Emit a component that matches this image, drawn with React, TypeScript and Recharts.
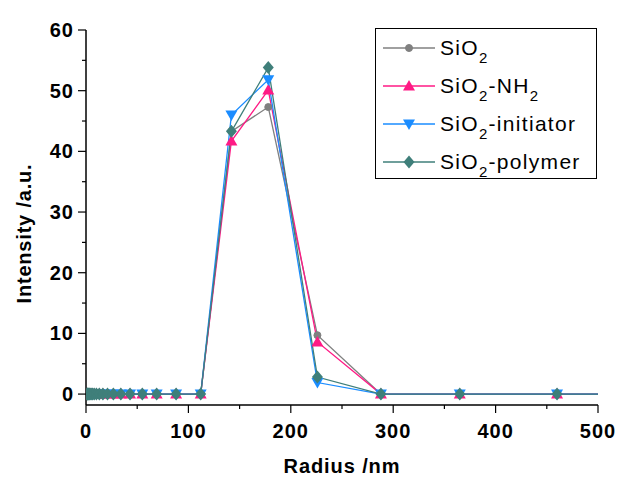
import React from "react";
import { LineChart, Line, XAxis, YAxis, Label } from "recharts";

// hydrodynamic radius bins (nm)
const radius = [1.2, 1.5, 1.9, 2.4, 3.1, 3.9, 5.0, 6.3, 8.0, 10.2, 13.0, 16.5, 21.0, 26.7, 34.0, 43.0, 55.0, 69.0, 88.0, 112, 142, 178, 226, 288, 365, 460, 583];

const sio2 = [0, 0, 0, 0, 0, 0, 0, 0, 0, 0, 0, 0, 0, 0, 0, 0, 0, 0, 0, 0, 43.3, 47.3, 9.7, 0, 0, 0, 0];
const sio2Nh2 = [0, 0, 0, 0, 0, 0, 0, 0, 0, 0, 0, 0, 0, 0, 0, 0, 0, 0, 0, 0, 41.7, 50.1, 8.6, 0, 0, 0, 0];
const sio2Initiator = [0, 0, 0, 0, 0, 0, 0, 0, 0, 0, 0, 0, 0, 0, 0, 0, 0, 0, 0, 0, 46.0, 51.8, 1.9, 0, 0, 0, 0];
const sio2Polymer = [0, 0, 0, 0, 0, 0, 0, 0, 0, 0, 0, 0, 0, 0, 0, 0, 0, 0, 0, 0, 43.3, 53.8, 2.8, 0, 0, 0, 0];

// major + minor ticks; labels only on the majors
const xTicks = [0, 50, 100, 150, 200, 250, 300, 350, 400, 450, 500];
const yTicks = [0, 5, 10, 15, 20, 25, 30, 35, 40, 45, 50, 55, 60];

const data = radius.map((r, i) => ({
  r,
  s1: sio2[i],
  s2: sio2Nh2[i],
  s3: sio2Initiator[i],
  s4: sio2Polymer[i],
}));

const FONT = "'Liberation Sans', Arial, sans-serif";

type Shape = "circle" | "up" | "down" | "diamond";

function Marker({ cx, cy, shape, color }: { cx: number; cy: number; shape: Shape; color: string }) {
  if (shape === "circle") return <circle cx={cx} cy={cy} r={3.5} fill={color} stroke={color} />;
  if (shape === "up")
    return <polygon points={`${cx},${cy - 6} ${cx + 6},${cy + 4.5} ${cx - 6},${cy + 4.5}`} fill={color} />;
  if (shape === "down")
    return <polygon points={`${cx},${cy + 6} ${cx + 6},${cy - 4.5} ${cx - 6},${cy - 4.5}`} fill={color} />;
  return <polygon points={`${cx},${cy - 6.5} ${cx + 5.5},${cy} ${cx},${cy + 6.5} ${cx - 5.5},${cy}`} fill={color} />;
}

const series = [
  { key: "s1", name: "SiO", suffix: "", sub2: "", color: "#808080", shape: "circle" as Shape },
  { key: "s2", name: "SiO", suffix: "-NH", sub2: "2", color: "#ff1a85", shape: "up" as Shape },
  { key: "s3", name: "SiO", suffix: "-initiator", sub2: "", color: "#1a8cff", shape: "down" as Shape },
  { key: "s4", name: "SiO", suffix: "-polymer", sub2: "", color: "#3f7f7a", shape: "diamond" as Shape },
];

function makeDot(shape: Shape, color: string) {
  return (p: any) => <Marker key={`${shape}-${p.index}`} cx={p.cx} cy={p.cy} shape={shape} color={color} />;
}

const tickText = { fontFamily: FONT, fontSize: 20, fontWeight: 700, fill: "#000", letterSpacing: 1 };

function XTick({ x, y, payload }: any) {
  const major = payload.value % 100 === 0;
  return (
    <g>
      <line x1={x} x2={x} y1={y} y2={y + (major ? 8 : 4)} stroke="#000" strokeWidth={1.2} />
      {major ? (
        <text x={x} y={y + 33} textAnchor="middle" {...tickText}>
          {payload.value}
        </text>
      ) : null}
    </g>
  );
}

function YTick({ x, y, payload }: any) {
  const major = payload.value % 10 === 0;
  return (
    <g>
      <line x1={x} x2={x - (major ? 8 : 4)} y1={y} y2={y} stroke="#000" strokeWidth={1.2} />
      {major ? (
        <text x={x - 12} y={y + 7} textAnchor="end" {...tickText}>
          {payload.value}
        </text>
      ) : null}
    </g>
  );
}

function ChartLegend() {
  const rowY = [20, 58, 96, 134];
  return (
    <div
      style={{
        position: "absolute",
        left: 375,
        top: 28,
        width: 222,
        height: 151,
        border: "1px solid #000",
        boxSizing: "border-box",
        background: "#fff",
      }}
    >
      <svg width={222} height={151} style={{ position: "absolute", left: -1, top: -1 }}>
        {series.map((s, i) => (
          <g key={s.key}>
            <line x1={8} x2={60} y1={rowY[i]} y2={rowY[i]} stroke={s.color} strokeWidth={1.5} />
            <Marker cx={34} cy={rowY[i]} shape={s.shape} color={s.color} />
            <text x={65} y={rowY[i] + 7} fontFamily={FONT} fontSize={21} fill="#000" letterSpacing={1.3}>
              {s.name}
              <tspan fontSize={15} dy={8}>2</tspan>
              <tspan dy={-8}>{s.suffix}</tspan>
              {s.sub2 ? <tspan fontSize={15} dy={8}>{s.sub2}</tspan> : null}
            </text>
          </g>
        ))}
      </svg>
    </div>
  );
}

export default function App() {
  return (
    <div style={{ position: "relative", width: 620, height: 479, background: "#fff" }}>
      <style>{"body{margin:0;overflow:hidden}"}</style>
      <LineChart width={620} height={479} data={data} margin={{ top: 30, right: 22, left: 0, bottom: 0 }}>
        <XAxis
          dataKey="r"
          type="number"
          domain={[0, 500]}
          allowDataOverflow
          ticks={xTicks}
          interval={0}
          tickSize={0}
          tickMargin={0}
          tickLine={false}
          height={74}
          tick={<XTick />}
          axisLine={{ stroke: "#000", strokeWidth: 1.5 }}
        >
          <Label
            value="Radius /nm"
            position="insideBottom"
            offset={6}
            style={{ fontFamily: FONT, fontSize: 20, fontWeight: 700, fill: "#000", letterSpacing: 0.9 }}
          />
        </XAxis>
        <YAxis
          type="number"
          domain={[-1.8, 60]}
          ticks={yTicks}
          interval={0}
          tickSize={0}
          tickMargin={0}
          tickLine={false}
          width={86}
          tick={<YTick />}
          axisLine={{ stroke: "#000", strokeWidth: 1.5 }}
        >
          <Label
            value="Intensity /a.u."
            angle={-90}
            position="insideLeft"
            offset={24}
            dy={16}
            style={{ fontFamily: FONT, fontSize: 20, fontWeight: 700, fill: "#000", textAnchor: "middle", letterSpacing: 0.8 }}
          />
        </YAxis>
        {series.map((s) => (
          <Line
            key={s.key}
            dataKey={s.key}
            stroke={s.color}
            strokeWidth={1.3}
            type="linear"
            dot={makeDot(s.shape, s.color)}
            activeDot={false}
            isAnimationActive={false}
          />
        ))}
      </LineChart>
      <ChartLegend />
    </div>
  );
}
